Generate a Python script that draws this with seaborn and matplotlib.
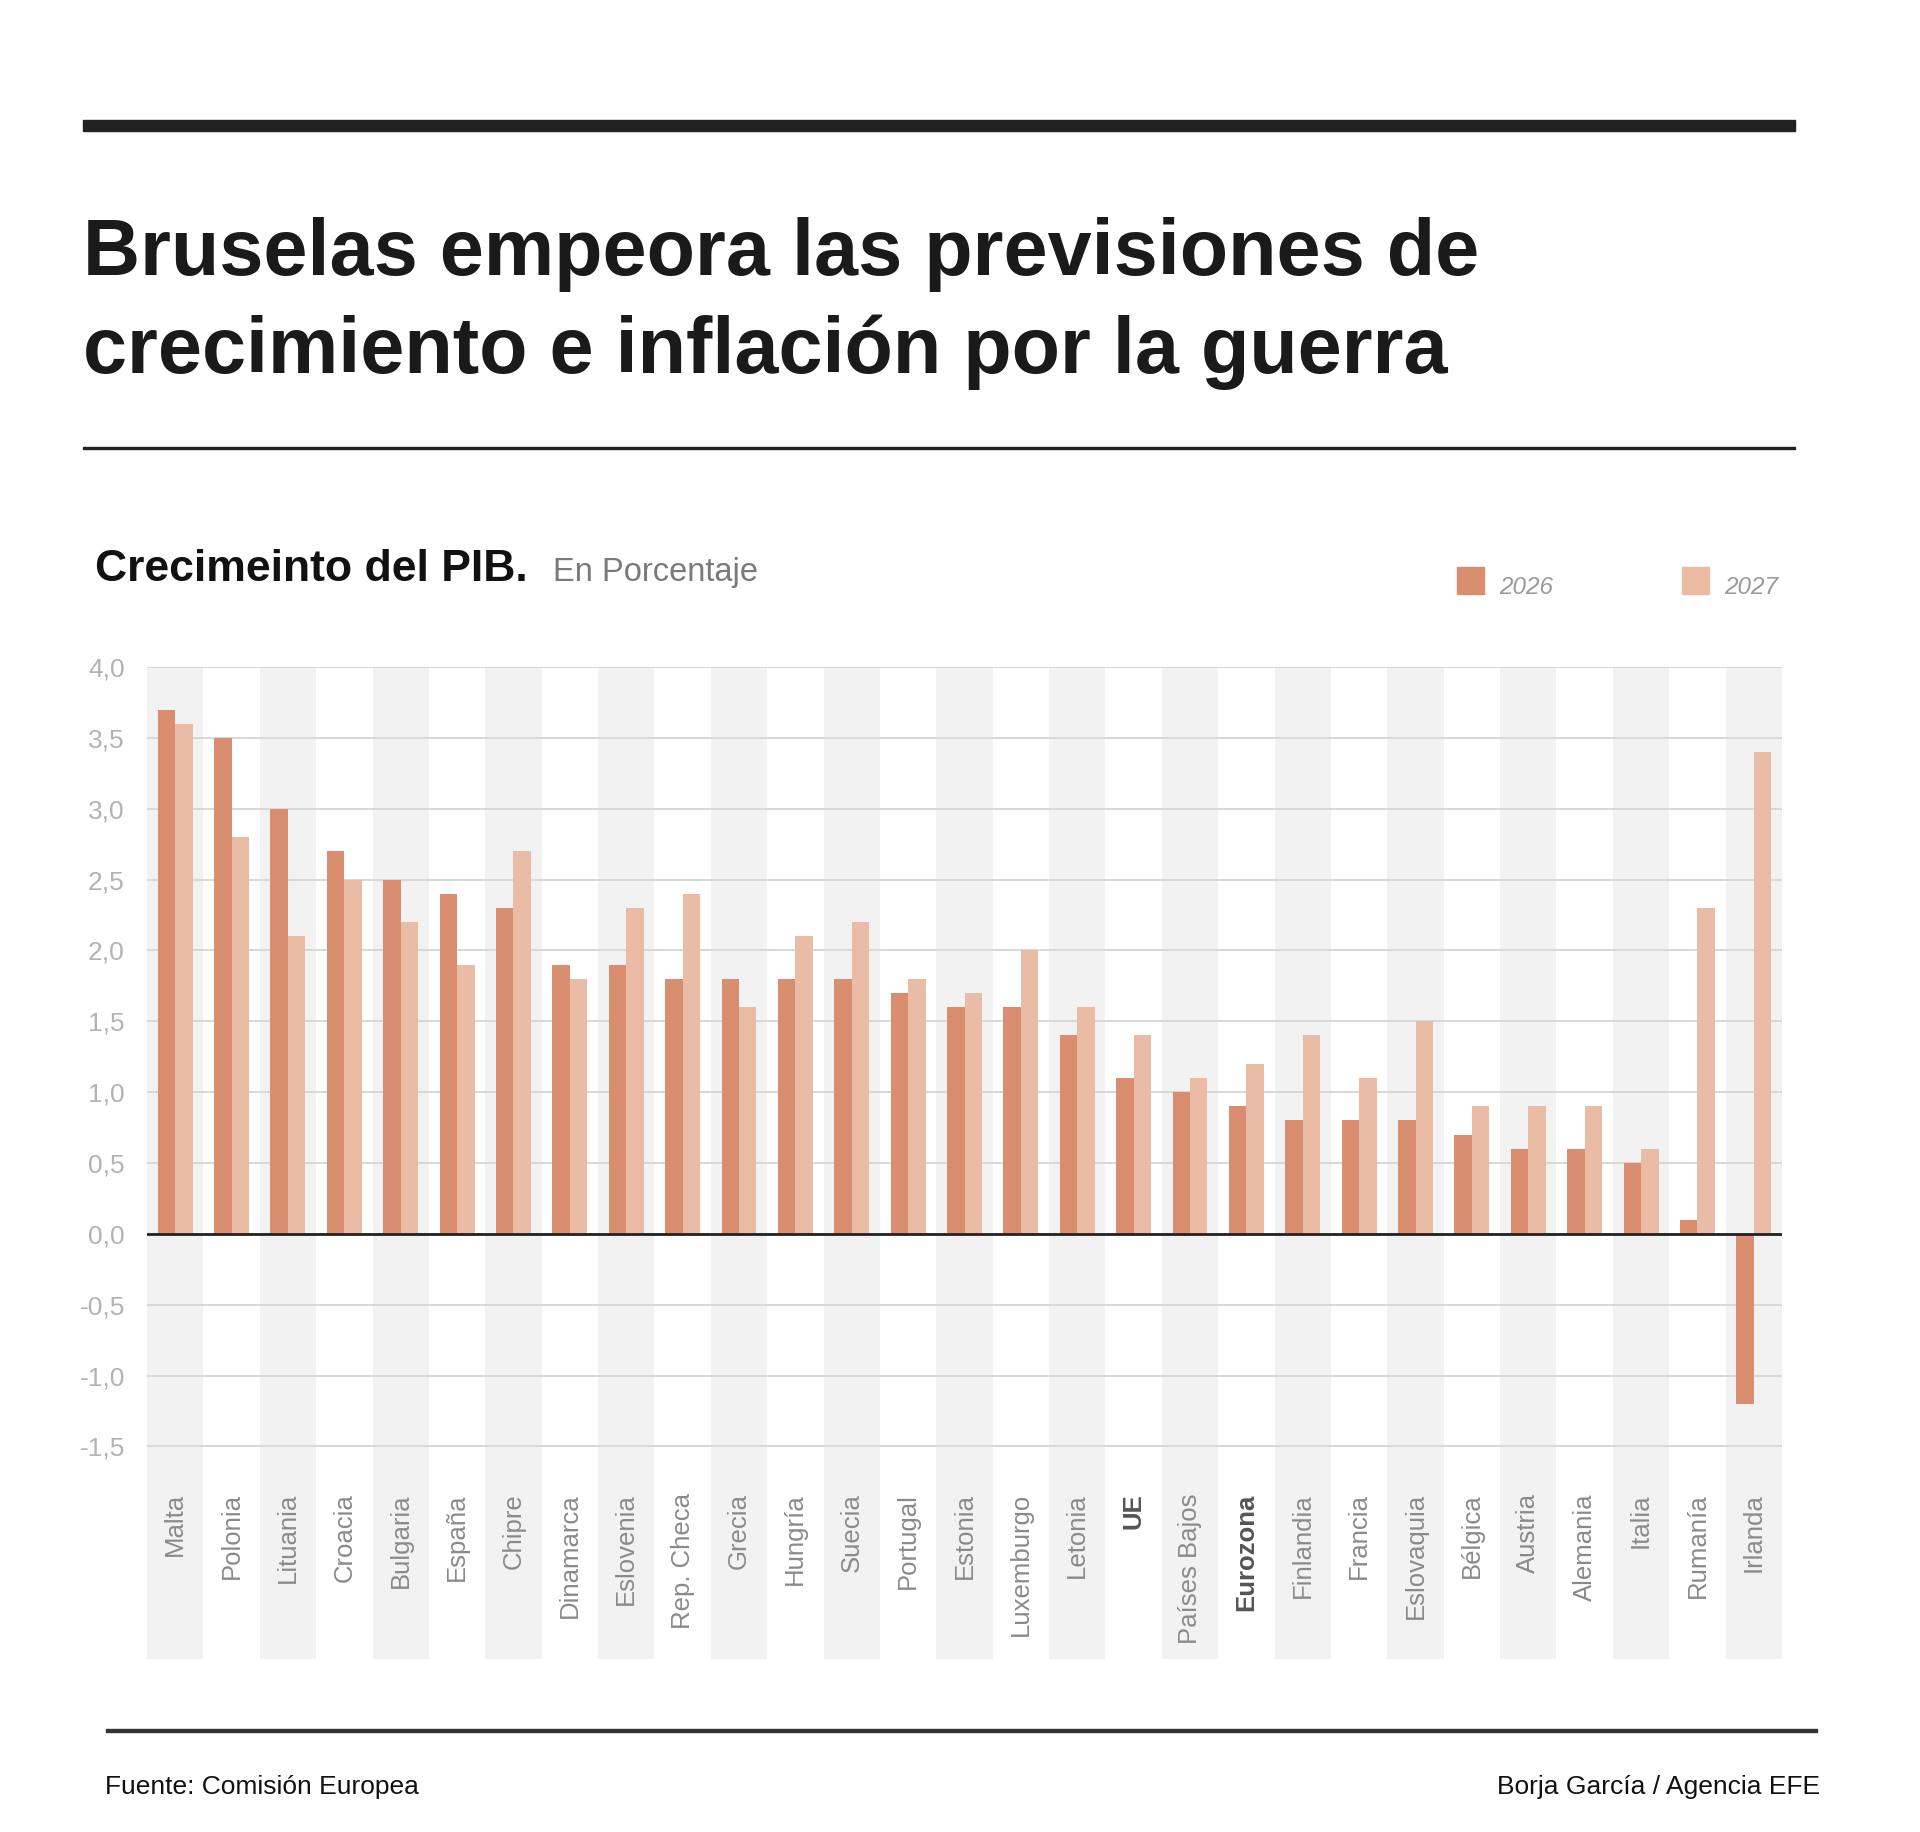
import pandas as pd
import seaborn as sns
import matplotlib.pyplot as plt
from matplotlib.patches import Rectangle

# Datos
paises = ["Malta", "Polonia", "Lituania", "Croacia", "Bulgaria", "España", "Chipre",
          "Dinamarca", "Eslovenia", "Rep. Checa", "Grecia", "Hungría", "Suecia",
          "Portugal", "Estonia", "Luxemburgo", "Letonia", "UE", "Países Bajos",
          "Eurozona", "Finlandia", "Francia", "Eslovaquia", "Bélgica", "Austria",
          "Alemania", "Italia", "Rumanía", "Irlanda"]
pib_2026 = [3.7, 3.5, 3.0, 2.7, 2.5, 2.4, 2.3, 1.9, 1.9, 1.8, 1.8, 1.8, 1.8, 1.7, 1.6,
            1.6, 1.4, 1.1, 1.0, 0.9, 0.8, 0.8, 0.8, 0.7, 0.6, 0.6, 0.5, 0.1, -1.2]
pib_2027 = [3.6, 2.8, 2.1, 2.5, 2.2, 1.9, 2.7, 1.8, 2.3, 2.4, 1.6, 2.1, 2.2, 1.8, 1.7,
            2.0, 1.6, 1.4, 1.1, 1.2, 1.4, 1.1, 1.5, 0.9, 0.9, 0.9, 0.6, 2.3, 3.4]
anios = ["2026", "2027"]
destacados = ["UE", "Eurozona"]
yticks = [-1.5, -1.0, -0.5, 0.0, 0.5, 1.0, 1.5, 2.0, 2.5, 3.0, 3.5, 4.0]

col_2026 = "#DA8E70"
col_2027 = "#EABCA6"

df = pd.DataFrame({
    "Pais": paises * 2,
    "Valor": pib_2026 + pib_2027,
    "Anio": [anios[0]] * len(paises) + [anios[1]] * len(paises),
})

sns.set_style("white")
plt.rcParams["font.family"] = ["Liberation Sans", "DejaVu Sans"]

fig = plt.figure(figsize=(19.2, 18.32), dpi=100)
W, H = 1920, 1832

ax = fig.add_axes([147 / W, 173 / H, 1635 / W, 992 / H])

# Franjas grises alternas
for i in range(0, len(paises), 2):
    ax.axvspan(i - 0.5, i + 0.5, color="#F2F2F2", zorder=0, lw=0)

# Lineas de rejilla
ax.hlines(yticks, -0.5, len(paises) - 0.5, color="#D6D6D6", lw=1.3, zorder=1)

sns.barplot(data=df, x="Pais", y="Valor", hue="Anio", palette=[col_2026, col_2027],
            width=0.62, saturation=1, linewidth=0, ax=ax, zorder=2, legend=False)

ax.axhline(0, color="#222222", lw=2, zorder=3)

ax.set_xlim(-0.5, len(paises) - 0.5)
ax.set_ylim(-3.0, 4.0)
ax.set_yticks(yticks)
ax.set_yticklabels([f"{v:.1f}".replace(".", ",") for v in yticks],
                   color="#B3B3B3", fontsize=19)
ax.tick_params(axis="y", length=0, pad=16)
ax.set_xticks([])
ax.set_xlabel("")
ax.set_ylabel("")
for s in ax.spines.values():
    s.set_visible(False)

# Etiquetas de paises
for i, p in enumerate(paises):
    bold = p in destacados
    ax.text(i, -1.83, p, rotation=90, ha="center", va="top", fontsize=18.5,
            color="#555555" if bold else "#8A8A8A",
            fontweight="bold" if bold else "normal")

# Lineas decorativas
fig.patches.append(Rectangle((83 / W, 1 - 131 / H), 1712 / W, 11 / H,
                             transform=fig.transFigure, color="#222222"))
fig.patches.append(Rectangle((83 / W, 1 - 449 / H), 1712 / W, 2.5 / H,
                             transform=fig.transFigure, color="#222222"))
fig.patches.append(Rectangle((106 / W, 1 - 1732 / H), 1711 / W, 3.5 / H,
                             transform=fig.transFigure, color="#333333"))

# Titulo
fig.text(83 / W, 1 - 275 / H, "Bruselas empeora las previsiones de",
         fontsize=57, fontweight="bold", color="#1A1A1A", va="baseline")
fig.text(83 / W, 1 - 373 / H, "crecimiento e inflación por la guerra",
         fontsize=57, fontweight="bold", color="#1A1A1A", va="baseline")

# Subtitulo
fig.text(95 / W, 1 - 581 / H, "Crecimeinto del PIB.", fontsize=32,
         fontweight="bold", color="#111111", va="baseline")
fig.text(553 / W, 1 - 581 / H, "En Porcentaje", fontsize=23.5,
         color="#7A7A7A", va="baseline")

# Leyenda
for x0, xt, anio, col in [(1457, 1499, anios[0], col_2026), (1682, 1724, anios[1], col_2027)]:
    fig.patches.append(Rectangle((x0 / W, 1 - 594 / H), 27 / W, 27 / H,
                                 transform=fig.transFigure, color=col))
    fig.text(xt / W, 1 - 594 / H, anio, fontsize=17.5, style="italic",
             color="#9A9A9A", va="baseline")

# Pie
fig.text(105 / W, 1 - 1794 / H, "Fuente: Comisión Europea", fontsize=19,
         color="#111111", va="baseline")
fig.text(1820 / W, 1 - 1794 / H, "Borja García / Agencia EFE", fontsize=19,
         color="#111111", va="baseline", ha="right")

fig.savefig("out.png", dpi=100, facecolor="white")
